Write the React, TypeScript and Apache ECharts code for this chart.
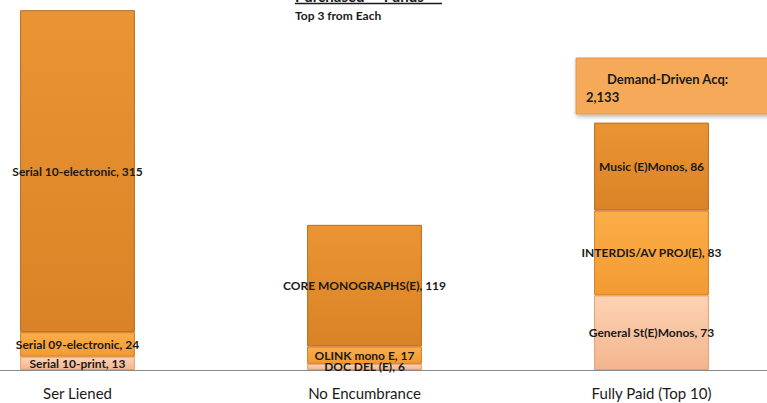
import React, { useEffect, useRef } from "react";
import * as echarts from "echarts";

const categories = ["Ser Liened", "No Encumbrance", "Fully Paid (Top 10)"];
const bottomNames = ["Serial 10-print", "DOC DEL (E)", "General St(E)Monos"];
const bottomValues = [13, 6, 73];
const middleNames = ["Serial 09-electronic", "OLINK mono E", "INTERDIS/AV PROJ(E)"];
const middleValues = [24, 17, 83];
const topNames = ["Serial 10-electronic", "CORE MONOGRAPHS(E)", "Music (E)Monos"];
const topValues = [315, 119, 86];
const titleText = "Purchased — Funds";
const subtitleText = "Top 3 from Each";
const ddaLabel = "Demand-Driven Acq:";
const ddaValue = "2,133";

const FONT = "Lato, 'Open Sans', sans-serif";
const OFF = 66; // inner chart is shifted left by this many pixels

function grad(c1: string, c2: string) {
  return new echarts.graphic.LinearGradient(0, 0, 0, 1, [
    { offset: 0, color: c1 },
    { offset: 1, color: c2 },
  ]);
}

function mkSeries(name: string, names: string[], values: number[], c1: string, c2: string, border: string) {
  return {
    name,
    type: "bar",
    stack: "s",
    barWidth: "40%",
    data: values.map((v, i) => ({ value: v, name: names[i] })),
    itemStyle: { color: grad(c1, c2), borderColor: border, borderWidth: 1 },
    label: {
      show: true,
      position: "inside",
      formatter: (p: any) => `${p.data.name}, ${p.value}`,
      color: "#1a1a1a",
      fontFamily: FONT,
      fontSize: 12,
      fontWeight: "bold",
    },
  };
}

export default function App() {
  const ref = useRef<HTMLDivElement>(null);
  useEffect(() => {
    const chart = echarts.init(ref.current!, null, { renderer: "svg" });
    chart.setOption({
      animation: false,
      grid: { left: 0, right: 0, top: 2, bottom: 33 },
      xAxis: {
        type: "category",
        data: categories,
        axisLine: { lineStyle: { color: "#8a8a8a", width: 1 } },
        axisTick: { show: false },
        axisLabel: { color: "#1a1a1a", fontFamily: FONT, fontSize: 15, margin: 15 },
      },
      yAxis: {
        type: "value",
        min: 0,
        max: 360,
        show: false,
        splitLine: { show: false },
      },
      series: [
        mkSeries("bottom", bottomNames, bottomValues, "#FDD3B4", "#F3B58E", "#E0A070"),
        mkSeries("middle", middleNames, middleValues, "#FBAE48", "#F39A32", "#D07F22"),
        mkSeries("top", topNames, topValues, "#EA9434", "#D98326", "#B86A1E"),
      ],
      graphic: [
        {
          type: "text",
          x: 295 + OFF,
          y: -12,
          style: { text: titleText, font: `bold 15px ${FONT}`, fill: "#1a1a1a" },
        },
        { type: "line", shape: { x1: 295 + OFF, y1: 3.5, x2: 442 + OFF, y2: 3.5 }, style: { stroke: "#1a1a1a", lineWidth: 1.5 } },
        {
          type: "text",
          x: 295 + OFF,
          y: 9,
          style: { text: subtitleText, font: `bold 12px ${FONT}`, fill: "#1a1a1a" },
        },
        {
          type: "rect",
          shape: { x: 576 + OFF, y: 58, width: 200, height: 56 },
          style: {
            fill: "#F7A95A",
            stroke: "#E8964A",
            lineWidth: 1,
            shadowBlur: 4,
            shadowColor: "rgba(0,0,0,0.3)",
            shadowOffsetX: 1,
            shadowOffsetY: 2,
          },
        },
        {
          type: "text",
          x: 607 + OFF,
          y: 72,
          style: { text: ddaLabel, font: `bold 13px ${FONT}`, fill: "#1a1a1a" },
        },
        {
          type: "text",
          x: 586 + OFF,
          y: 90,
          style: { text: ddaValue, font: `bold 13px ${FONT}`, fill: "#1a1a1a" },
        },
      ],
    });
    return () => chart.dispose();
  }, []);
  return (
    <div style={{ position: "fixed", left: 0, top: 0, width: 767, height: 403, overflow: "hidden", background: "#fff" }}>
      <div ref={ref} style={{ position: "absolute", left: -OFF, top: 0, width: 861, height: 403 }} />
    </div>
  );
}
